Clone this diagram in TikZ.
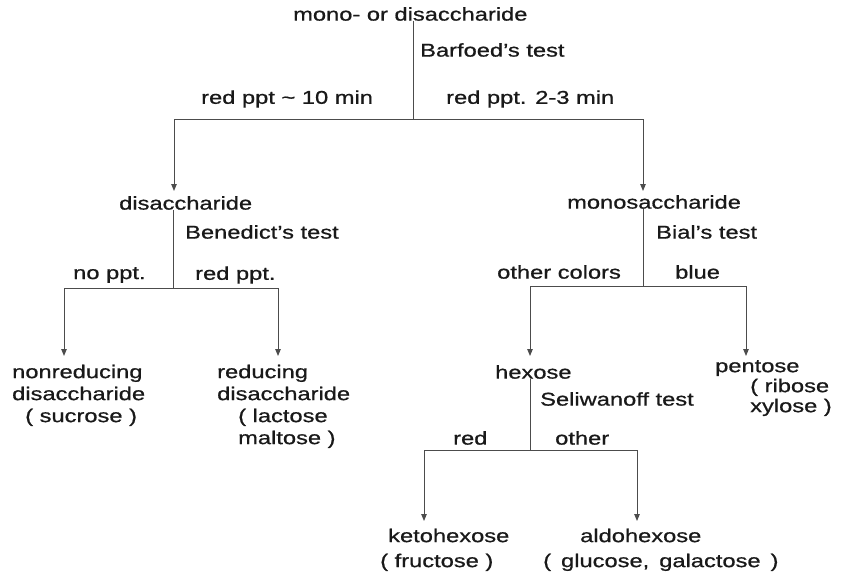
\documentclass[tikz,border=0pt]{standalone}
\usepackage{fontspec}
\setmainfont{Liberation Sans}[FakeStretch=1.28,FakeBold=0.8]
\usetikzlibrary{arrows.meta}
\begin{document}
\begin{tikzpicture}[x=1pt,y=-1pt,
  lbl/.style={inner sep=0pt, anchor=west, text=black!90, font=\fontsize{18.5}{22}\selectfont},
  blk/.style={lbl, anchor=north west, align=left},
  ln/.style={draw=black!70, line width=1pt},
  arr/.style={ln, -{Triangle[length=7pt,width=5.5pt]}}]
\useasboundingbox (0,0) rectangle (842,578);
% labels
\node[lbl] (top) at (293,14) {mono- or disaccharide};
\node[lbl] (barf) at (420,50) {Barfoed's test};
\node[lbl] (r10) at (201,99) {red ppt \textasciitilde{} 10 min};
\node[lbl] (r23) at (446,99) {red ppt. 2-3 min};
\node[lbl] (dis) at (119,203) {disaccharide};
\node[lbl] (mono) at (567,202) {monosaccharide};
\node[lbl] (bene) at (185,232) {Benedict's test};
\node[lbl] (bial) at (656,232) {Bial's test};
\node[lbl] (noppt) at (73,275) {no ppt.};
\node[lbl] (redppt) at (195,275) {red ppt.};
\node[lbl] (oth) at (497,272) {other colors};
\node[lbl] (blue) at (675,272) {blue};
\node[blk] (nonred) at (12,364.5) {nonreducing\\disaccharide\\\hspace*{13pt}( sucrose )};
\node[blk] (red) at (217,364.5) {reducing\\disaccharide\\\hspace*{21pt}( lactose\\\hspace*{21pt}maltose )};
\node[lbl] (hex) at (495,372) {hexose};
\node[blk, font=\fontsize{18.5}{20}\selectfont] (pent) at (715,360) {pentose\\\hspace*{35pt}( ribose\\\hspace*{35pt}xylose )};
\node[lbl] (seli) at (540,399) {Seliwanoff test};
\node[lbl] (redc) at (453,438) {red};
\node[lbl] (othr) at (555,438) {other};
\node[blk, font=\fontsize{18.5}{25}\selectfont] (keto) at (380,528.5) {\hspace*{8pt}ketohexose\\( fructose )};
\node[blk, font=\fontsize{18.5}{25}\selectfont] (aldo) at (543,528.5) {\hspace*{37pt}aldohexose\\(\hspace{10pt}glucose,\hspace{10pt}galactose\hspace{10pt})};
% junctions and arrow tips
\coordinate (j1) at (413,119);
\coordinate (t1) at (174,191);
\coordinate (t2) at (643,191);
\coordinate (j2) at (173,288);
\coordinate (t3) at (64,356);
\coordinate (t4) at (278,356);
\coordinate (j3) at (643,286);
\coordinate (t5) at (530,356);
\coordinate (t6) at (746,356);
\coordinate (j4) at (530,450);
\coordinate (t7) at (424,521);
\coordinate (t8) at (637,521);
% connectors
\draw[ln] (top.south -| j1) -- (j1);
\draw[arr] (j1) -| (t1);
\draw[arr] (j1) -| (t2);
\draw[ln] (dis.south -| j2) -- (j2);
\draw[arr] (j2) -| (t3);
\draw[arr] (j2) -| (t4);
\draw[ln] (mono.south -| j3) -- (j3);
\draw[arr] (j3) -| (t5);
\draw[arr] (j3) -| (t6);
\draw[ln] (hex.south -| j4) -- (j4);
\draw[arr] (j4) -| (t7);
\draw[arr] (j4) -| (t8);
\end{tikzpicture}
\end{document}
